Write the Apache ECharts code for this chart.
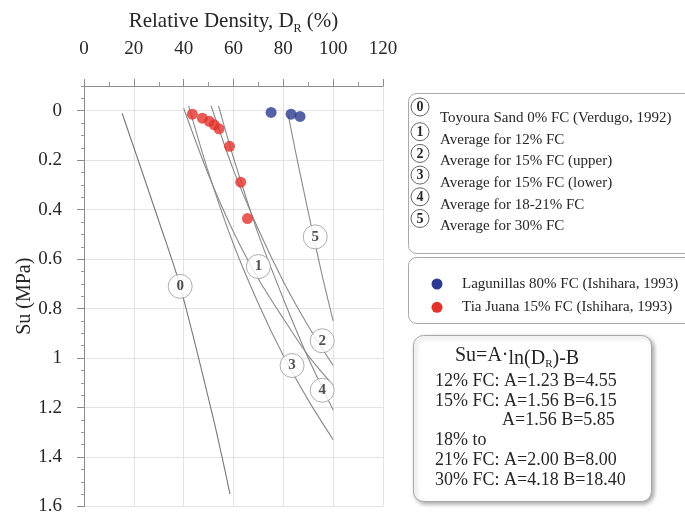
<!DOCTYPE html>
<html>
<head>
<meta charset="utf-8">
<script src="https://cdn.jsdelivr.net/npm/echarts@6/dist/echarts.min.js"></script>
<style>
  html, body { margin: 0; padding: 0; background: #fff; }
  #chart { width: 685px; height: 516px; }
</style>
</head>
<body>
<div id="chart"></div>
<script>
// Axis ticks
const densityTicks = [0, 20, 40, 60, 80, 100, 120];
const suTicks = [0, 0.2, 0.4, 0.6, 0.8, 1, 1.2, 1.4, 1.6];

// Su (MPa) against relative density DR (%) for each averaged curve
const curve0 = [[15.3, 0.01], [30.5, 0.46], [38.6, 0.71], [51.8, 1.24], [58.6, 1.55]];
const curve1 = [[40.0, -0.01], [50, 0.26], [60, 0.49], [70, 0.68], [80, 0.84], [90, 0.99], [100, 1.11]];
const curve2 = [[51.0, -0.02], [60, 0.24], [70, 0.48], [80, 0.69], [90, 0.87], [100, 1.03]];
const curve3 = [[42.0, -0.02], [50, 0.25], [60, 0.54], [70, 0.78], [80, 0.99], [90, 1.17], [100, 1.33]];
const curve4 = [[54.0, -0.02], [60, 0.19], [70, 0.50], [80, 0.76], [90, 1.00], [100, 1.21]];
const curve5 = [[82.0, 0.02], [85, 0.17], [90, 0.41], [95, 0.64], [100, 0.85]];

const curveNumbers = ['0', '1', '2', '3', '4', '5'];
const curveNames = [
  'Toyoura Sand 0% FC (Verdugo, 1992)',
  'Average for 12% FC',
  'Average for 15% FC (upper)',
  'Average for 15% FC (lower)',
  'Average for 18-21% FC',
  'Average for 30% FC'
];
// where each curve number sits on its curve
const curveTagAt = [[38.6, 0.71], [70.0, 0.63], [95.6, 0.93], [83.5, 1.03], [95.6, 1.13], [92.8, 0.51]];

// Measured points
const lagunillas = [[75.1, 0.007], [83.1, 0.014], [86.7, 0.023]];
const tiaJuana = [[43.5, 0.014], [47.5, 0.030], [50.3, 0.043], [52.3, 0.057], [54.2, 0.073],
                  [58.4, 0.144], [62.9, 0.289], [65.6, 0.436]];
const pointNames = ['Lagunillas 80% FC (Ishihara, 1993)', 'Tia Juana 15% FC (Ishihara, 1993)'];
const pointColors = ['#2d3a91', '#e2322c'];

// Fitted expressions
const formulaRows = [
  '12% FC: A=1.23 B=4.55',
  '15% FC: A=1.56 B=6.15',
  'A=1.56 B=5.85',
  '18% to',
  '21% FC: A=2.00 B=8.00',
  '30% FC: A=4.18 B=18.40'
];

const SERIF = "'Liberation Serif','Times New Roman',serif";
const INK = '#262626';
const CURVE = '#8a8a8a';
const GRID = '#e3e3e3';
const FRAME = '#a8a8a8';

const chart = echarts.init(document.getElementById('chart'), null, { renderer: 'canvas' });

const curves = [curve0, curve1, curve2, curve3, curve4, curve5];
const lineSeries = curves.map((d, i) => ({
  name: curveNames[i],
  type: 'line',
  data: d,
  smooth: 0.3,
  symbol: 'none',
  silent: true,
  lineStyle: { color: i === 0 ? '#777' : CURVE, width: 1.1 },
  z: 2
}));

// Legend panels
const graphics = [];
graphics.push({
  type: 'rect', shape: { x: 408.5, y: 93.5, width: 290, height: 160, r: 8 },
  style: { fill: '#fff', stroke: FRAME, lineWidth: 1 }, z: 10
});
curveNames.forEach((name, i) => {
  const ty = 118 + i * 21.7;
  const cy = ty - (i === 0 ? 11 : 8);
  graphics.push({
    type: 'circle', shape: { cx: 420, cy: cy, r: 9 },
    style: { fill: '#fff', stroke: '#666', lineWidth: 1 }, z: 11
  });
  graphics.push({
    type: 'text', x: 420, y: cy + 0.5,
    style: { text: curveNumbers[i], font: 'bold 14px ' + SERIF, fill: INK, align: 'center', verticalAlign: 'middle' },
    z: 12
  });
  graphics.push({
    type: 'text', x: 440, y: ty,
    style: { text: name, font: '15px ' + SERIF, fill: INK, align: 'left', verticalAlign: 'middle' },
    z: 12
  });
});

graphics.push({
  type: 'rect', shape: { x: 408.5, y: 257.5, width: 290, height: 66, r: 8 },
  style: { fill: '#fff', stroke: FRAME, lineWidth: 1 }, z: 10
});
pointNames.forEach((name, i) => {
  const y = 284 + i * 23.3;
  graphics.push({
    type: 'circle', shape: { cx: 437, cy: y, r: 5.5 },
    style: { fill: pointColors[i] }, z: 11
  });
  graphics.push({
    type: 'text', x: 462, y: y,
    style: { text: name, font: '15px ' + SERIF, fill: INK, align: 'left', verticalAlign: 'middle' },
    z: 12
  });
});

graphics.push({
  type: 'rect', shape: { x: 413.5, y: 335.5, width: 238, height: 166, r: 10 },
  style: {
    fill: '#fff', stroke: FRAME, lineWidth: 1,
    shadowBlur: 4, shadowColor: 'rgba(0,0,0,0.35)', shadowOffsetX: 2, shadowOffsetY: 2
  },
  z: 10
});
graphics.push({
  type: 'text', x: 455, y: 346,
  style: {
    text: '{a|Su=A}{d|·}{l|ln(D}{s|R}{l|)-B}',
    fill: INK,
    rich: {
      a: { fontFamily: SERIF, fontSize: 20, fill: INK, verticalAlign: 'top' },
      d: { fontFamily: SERIF, fontSize: 20, fill: INK, verticalAlign: 'top' },
      l: { fontFamily: SERIF, fontSize: 20, fill: INK, verticalAlign: 'top', padding: [3, 0, 0, 0] },
      s: { fontFamily: SERIF, fontSize: 11, fill: INK, verticalAlign: 'top', padding: [13, 0, 0, 0] }
    }
  },
  z: 12
});
const rowX = [435, 435, 502, 435, 435, 435];
const rowY = [381.5, 401, 420.5, 440.5, 460.5, 480];
formulaRows.forEach((t, i) => {
  graphics.push({
    type: 'text', x: rowX[i], y: rowY[i],
    style: { text: t, font: '18px ' + SERIF, fill: INK, align: 'left', verticalAlign: 'middle' },
    z: 12
  });
});

const option = {
  animation: false,
  backgroundColor: '#fff',
  grid: { left: 84, right: 302, top: 86, bottom: 7, containLabel: false },
  xAxis: {
    type: 'value',
    position: 'top',
    min: densityTicks[0],
    max: densityTicks[densityTicks.length - 1],
    interval: 20,
    name: 'Relative Density, D{s|R} (%)',
    nameLocation: 'middle',
    nameGap: 52,
    nameTextStyle: {
      fontFamily: SERIF, fontSize: 21, color: INK,
      rich: { s: { fontFamily: SERIF, fontSize: 12, color: INK, verticalAlign: 'bottom', padding: [0, 0, -3, 0] } }
    },
    axisLine: { show: true, onZero: false, lineStyle: { color: '#8c8c8c', width: 1 } },
    axisTick: { show: true, length: 7, lineStyle: { color: '#8c8c8c' } },
    minorTick: { show: true, splitNumber: 2, length: 4, lineStyle: { color: '#9a9a9a' } },
    axisLabel: { fontFamily: SERIF, fontSize: 19, color: INK, margin: 27 },
    splitLine: { show: true, lineStyle: { color: GRID, width: 1 } }
  },
  yAxis: [
    {
      type: 'value',
      inverse: true,
      min: -0.1,
      max: 1.6,
      interval: 0.05,
      name: 'Su (MPa)',
      nameLocation: 'middle',
      nameGap: 48,
      nameTextStyle: { fontFamily: SERIF, fontSize: 20, color: INK },
      axisLine: { show: true, onZero: false, lineStyle: { color: '#8c8c8c', width: 1 } },
      axisTick: { show: true, length: 3, lineStyle: { color: '#9a9a9a' } },
      axisLabel: {
        customValues: suTicks,
        fontFamily: SERIF, fontSize: 19, color: INK, margin: 22
      },
      splitLine: { show: false }
    },
    {
      type: 'value',
      inverse: true,
      min: -0.1,
      max: 1.6,
      position: 'left',
      offset: 0,
      axisLine: { show: false, onZero: false },
      axisLabel: { show: false },
      axisTick: { show: true, customValues: suTicks, length: 7, lineStyle: { color: '#8c8c8c' } },
      splitLine: { show: true, lineStyle: { color: GRID, width: 1 } }
    }
  ],
  graphic: graphics,
  series: [
    ...lineSeries,
    {
      type: 'scatter',
      data: curveTagAt.map((p, i) => ({ value: p, name: curveNumbers[i] })),
      symbol: 'circle',
      symbolSize: 24,
      silent: true,
      itemStyle: { color: '#fff', borderColor: '#9a9a9a', borderWidth: 1 },
      label: {
        show: true, position: 'inside', formatter: '{b}',
        fontFamily: SERIF, fontWeight: 'bold', fontSize: 15, color: INK
      },
      z: 5
    },
    {
      name: pointNames[0], type: 'scatter', data: lagunillas, symbolSize: 11,
      itemStyle: { color: pointColors[0] }, z: 6
    },
    {
      name: pointNames[1], type: 'scatter', data: tiaJuana, symbolSize: 11,
      itemStyle: { color: pointColors[1] }, z: 6
    }
  ]
};

chart.setOption(option);
</script>
</body>
</html>
